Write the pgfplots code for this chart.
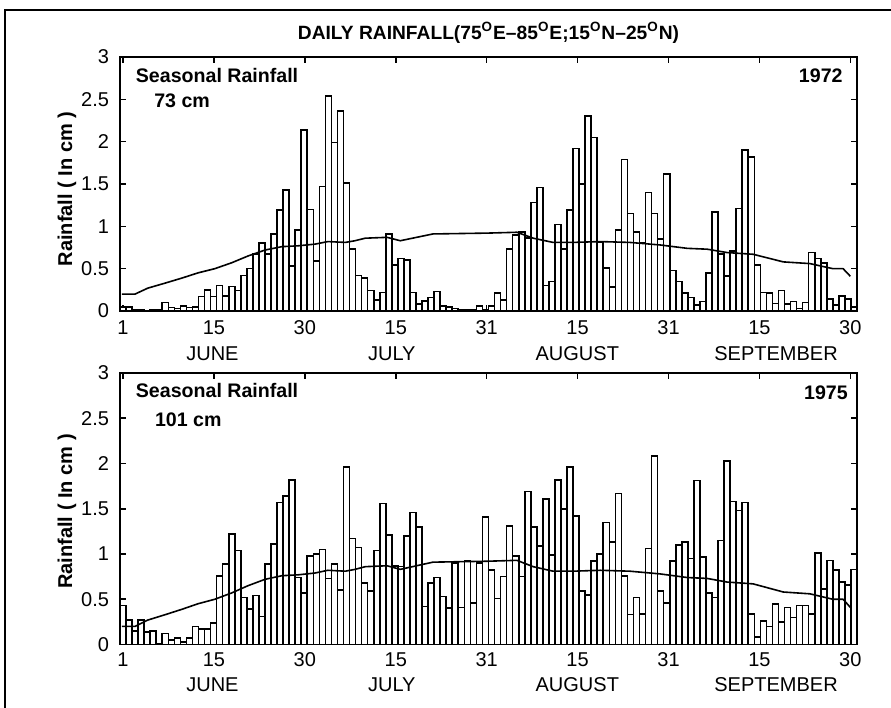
\documentclass[border=0pt]{standalone}
\usepackage{fontspec}
\setmainfont{Liberation Sans}
\usepackage{pgfplots}
\usepackage{pgfplotstable}
\pgfplotsset{compat=1.18}

% daily rainfall (cm), 1 June .. 30 September
\pgfplotstableread[row sep=\\]{
d r\\
1 0.05\\ 2 0.05\\ 3 0.02\\ 4 0.01\\ 5 0.00\\ 6 0.01\\ 7 0.01\\ 8 0.10\\ 9 0.04\\ 10 0.03\\
11 0.06\\ 12 0.04\\ 13 0.05\\ 14 0.17\\ 15 0.25\\ 16 0.17\\ 17 0.30\\ 18 0.18\\ 19 0.29\\ 20 0.24\\
21 0.42\\ 22 0.50\\ 23 0.67\\ 24 0.80\\ 25 0.67\\ 26 0.91\\ 27 1.19\\ 28 1.43\\ 29 0.53\\ 30 0.96\\
31 2.14\\ 32 1.20\\ 33 0.59\\ 34 1.47\\ 35 2.54\\ 36 1.99\\ 37 2.36\\ 38 1.51\\ 39 0.73\\ 40 0.42\\
41 0.39\\ 42 0.24\\ 43 0.13\\ 44 0.22\\ 45 0.91\\ 46 0.54\\ 47 0.62\\ 48 0.60\\ 49 0.22\\ 50 0.08\\
51 0.12\\ 52 0.16\\ 53 0.23\\ 54 0.06\\ 55 0.05\\ 56 0.03\\ 57 0.02\\ 58 0.01\\ 59 0.01\\ 60 0.06\\
61 0.01\\ 62 0.06\\ 63 0.21\\ 64 0.13\\ 65 0.73\\ 66 0.90\\ 67 0.93\\ 68 0.86\\ 69 1.28\\ 70 1.46\\
71 0.30\\ 72 0.35\\ 73 1.02\\ 74 0.73\\ 75 1.19\\ 76 1.92\\ 77 1.50\\ 78 2.30\\ 79 2.05\\ 80 0.81\\
81 0.51\\ 82 0.28\\ 83 0.96\\ 84 1.79\\ 85 1.15\\ 86 0.93\\ 87 0.80\\ 88 1.40\\ 89 1.15\\ 90 0.85\\
91 1.62\\ 92 0.48\\ 93 0.35\\ 94 0.21\\ 95 0.16\\ 96 0.07\\ 97 0.11\\ 98 0.45\\ 99 1.17\\ 100 0.67\\
101 0.41\\ 102 0.71\\ 103 1.21\\ 104 1.90\\ 105 1.82\\ 106 0.54\\ 107 0.22\\ 108 0.21\\ 109 0.09\\ 110 0.24\\
111 0.08\\ 112 0.11\\ 113 0.03\\ 114 0.10\\ 115 0.69\\ 116 0.62\\ 117 0.57\\ 118 0.14\\ 119 0.07\\ 120 0.18\\
121 0.14\\ 122 0.05\\
}\rainA

\pgfplotstableread[row sep=\\]{
d r\\
1 0.43\\ 2 0.27\\ 3 0.15\\ 4 0.27\\ 5 0.14\\ 6 0.15\\ 7 0.01\\ 8 0.12\\ 9 0.05\\ 10 0.07\\
11 0.03\\ 12 0.07\\ 13 0.20\\ 14 0.17\\ 15 0.17\\ 16 0.24\\ 17 0.76\\ 18 0.89\\ 19 1.22\\ 20 1.04\\
21 0.52\\ 22 0.39\\ 23 0.54\\ 24 0.31\\ 25 0.89\\ 26 1.11\\ 27 1.57\\ 28 1.64\\ 29 1.82\\ 30 0.74\\
31 0.57\\ 32 0.98\\ 33 1.00\\ 34 1.05\\ 35 0.73\\ 36 0.89\\ 37 0.60\\ 38 1.96\\ 39 1.17\\ 40 1.07\\
41 0.68\\ 42 0.59\\ 43 1.04\\ 44 1.56\\ 45 1.21\\ 46 0.87\\ 47 0.86\\ 48 1.20\\ 49 1.46\\ 50 1.30\\
51 0.42\\ 52 0.68\\ 53 0.74\\ 54 0.53\\ 55 0.40\\ 56 0.90\\ 57 0.41\\ 58 0.92\\ 59 0.46\\ 60 0.90\\
61 1.41\\ 62 0.82\\ 63 0.51\\ 64 0.75\\ 65 1.31\\ 66 0.98\\ 67 0.75\\ 68 1.69\\ 69 1.30\\ 70 1.09\\
71 1.61\\ 72 0.99\\ 73 1.82\\ 74 1.50\\ 75 1.96\\ 76 1.42\\ 77 0.59\\ 78 0.55\\ 79 0.92\\ 80 1.00\\
81 1.35\\ 82 1.13\\ 83 1.67\\ 84 0.76\\ 85 0.33\\ 86 0.52\\ 87 0.34\\ 88 1.06\\ 89 2.08\\ 90 0.59\\
91 0.46\\ 92 0.92\\ 93 1.10\\ 94 1.13\\ 95 0.95\\ 96 1.81\\ 97 0.97\\ 98 0.57\\ 99 0.52\\ 100 1.15\\
101 2.03\\ 102 1.58\\ 103 1.48\\ 104 1.57\\ 105 0.34\\ 106 0.08\\ 107 0.26\\ 108 0.20\\ 109 0.45\\ 110 0.25\\
111 0.41\\ 112 0.30\\ 113 0.43\\ 114 0.43\\ 115 0.34\\ 116 1.01\\ 117 0.61\\ 118 0.93\\ 119 0.82\\ 120 0.69\\
121 0.66\\ 122 0.83\\
}\rainB

% normal (climatological) daily rainfall
\pgfplotstableread[row sep=\\]{
d r\\
0.8 0.20\\ 3 0.20\\ 5.1 0.27\\ 8 0.33\\ 10.8 0.39\\ 13.4 0.45\\ 16.2 0.50\\ 19 0.57\\ 21.7 0.65\\
24.5 0.72\\ 27.3 0.76\\ 30 0.77\\ 32.8 0.79\\ 34.9 0.82\\ 37.8 0.81\\ 39.4 0.83\\ 41.1 0.86\\
44.7 0.87\\ 46.9 0.83\\ 52.3 0.91\\ 61.3 0.92\\ 66.2 0.93\\ 68.9 0.86\\ 72.2 0.81\\ 75.5 0.81\\
80 0.82\\ 84.9 0.81\\ 89.9 0.78\\ 94.4 0.74\\ 97.7 0.73\\ 101 0.69\\ 105.3 0.67\\ 110.3 0.58\\
114.7 0.56\\ 118.5 0.50\\ 120.2 0.50\\ 121.4 0.41\\
}\normal

\pgfplotsset{rain/.style={
 scale only axis,width=368.5pt,anchor=south west,clip=false,
 xmin=0.5,xmax=122.5,ymin=0,ymax=3,
 xtick={1,16.05,31.1,46.15,61.2,76.25,91.3,106.35,121.4},
 xticklabels={1,15,30,15,31,15,31,15,30},
 ytick={0,0.5,1,1.5,2,2.5,3},
 tick align=inside,tick pos=both,major tick length=3pt,
 axis line style={line width=1pt},
 every tick/.style={black,line width=0.8pt},
 tick label style={font=\fontsize{10}{11}\selectfont},
 /pgf/number format/assume math mode=true,
 yticklabel style={xshift=-2pt},
 ylabel={Rainfall ( In cm )},
 ylabel style={font=\fontsize{10}{12}\bfseries\selectfont,anchor=center}},
 bars/.style={ybar,bar width=1,bar shift=0pt,fill=white,draw=black,line width=0.8pt},
 normal/.style={black,line width=0.8pt,line join=round,no marks}}
\tikzset{month/.style={anchor=base,font=\fontsize{10}{12}\selectfont},
 lab/.style={font=\fontsize{9.8}{12}\bfseries\selectfont}}

\begin{document}
\begin{tikzpicture}
\path[use as bounding box] (0,0) rectangle (445.5pt,354pt);
\draw[line width=0.8pt] (2.5pt,0) -- (2.5pt,349pt) -- (445.5pt,349pt);

\begin{axis}[rain,at={(60pt,198.5pt)},height=127pt,
 xticklabel style={anchor=base,yshift=-12pt},
 ylabel style={at={(axis description cs:-0.072,0.48)}}]
\addplot[bars] table[x=d,y=r]{\rainA};
\addplot[normal] table[x=d,y=r]{\normal};
\node[lab,anchor=base west] at (rel axis cs:0.012,0.90) {Seasonal Rainfall};
\node[lab,anchor=base west] at (rel axis cs:0.037,0.803) {73 cm};
\node[lab,anchor=base east] at (rel axis cs:0.99,0.90) {1972};
\node[font=\fontsize{9.6}{12}\bfseries\selectfont,anchor=base] at (rel axis cs:0.5,1) [yshift=9pt]
 {DAILY RAINFALL(75\textsuperscript{O}E--85\textsuperscript{O}E;15\textsuperscript{O}N--25\textsuperscript{O}N)};
\node[month,yshift=-25pt] at (axis cs:15.8,0) {JUNE};
\node[month,yshift=-25pt] at (axis cs:45.5,0) {JULY};
\node[month,yshift=-25pt] at (axis cs:76.2,0) {AUGUST};
\node[month,yshift=-25pt] at (axis cs:109.1,0) {SEPTEMBER};
\end{axis}

\begin{axis}[rain,at={(60pt,31.75pt)},height=135.75pt,
 xticklabel style={anchor=base,yshift=-11pt},
 ylabel style={at={(axis description cs:-0.072,0.49)}}]
\addplot[bars] table[x=d,y=r]{\rainB};
\addplot[normal] table[x=d,y=r]{\normal};
\node[lab,anchor=base west] at (rel axis cs:0.012,0.91) {Seasonal Rainfall};
\node[lab,anchor=base west] at (rel axis cs:0.038,0.803) {101 cm};
\node[lab,anchor=base east] at (rel axis cs:0.997,0.902) {1975};
\node[month,yshift=-23.5pt] at (axis cs:15.8,0) {JUNE};
\node[month,yshift=-23.5pt] at (axis cs:45.5,0) {JULY};
\node[month,yshift=-23.5pt] at (axis cs:76.2,0) {AUGUST};
\node[month,yshift=-23.5pt] at (axis cs:109.1,0) {SEPTEMBER};
\end{axis}
\end{tikzpicture}
\end{document}
